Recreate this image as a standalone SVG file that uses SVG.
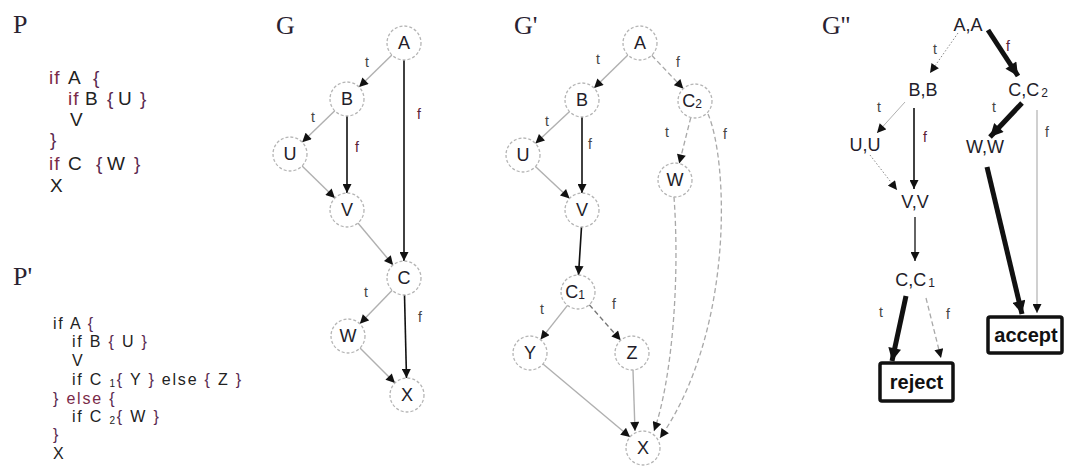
<svg xmlns="http://www.w3.org/2000/svg" width="1065" height="474" viewBox="0 0 1065 474">
<defs>
<style>
.title{font-family:"Liberation Serif",serif;font-size:26px;fill:#2a2230}
.code{font-family:"Liberation Sans",Arial,sans-serif;fill:#222}
.kw{fill:#7a2a48}
.br{fill:#5a2a50}
.nt{font-family:"Liberation Sans",Arial,sans-serif;font-size:18px;fill:#231d2a;text-anchor:middle}
.lbl{font-family:"Liberation Sans",Arial,sans-serif;font-size:14px;fill:#444;text-anchor:middle}
.lf{fill:#5a2035}
.nc{fill:#fff;stroke:#b5b5b5;stroke-width:1.3;stroke-dasharray:3 2}
.eg{fill:none;stroke:#b0b0b0;stroke-width:1.4}
.ek{fill:none;stroke:#111;stroke-width:1.6}
.ed{fill:none;stroke:#a8a8a8;stroke-width:1.3;stroke-dasharray:5 3}
.edot{fill:none;stroke:#888;stroke-width:1;stroke-dasharray:1.5 2}
.eth{fill:none;stroke:#111;stroke-width:5}
.elg{fill:none;stroke:#d0d0d0;stroke-width:2}
.box{fill:#fff;stroke:#111;stroke-width:3.5}
.bt{font-family:"Liberation Sans",Arial,sans-serif;font-size:20px;font-weight:bold;fill:#111;text-anchor:middle}
</style>
<marker id="ah" viewBox="0 0 10 10" refX="10" refY="5" markerWidth="10" markerHeight="9" markerUnits="userSpaceOnUse" orient="auto"><path d="M0,0 L10,5 L0,10 z" fill="#111"/></marker>
<marker id="ahb" viewBox="0 0 10 10" refX="10" refY="5" markerWidth="15" markerHeight="13" markerUnits="userSpaceOnUse" orient="auto"><path d="M0,0 L10,5 L0,10 z" fill="#111"/></marker>
</defs>
<rect width="1065" height="474" fill="#fff"/>

<!-- Titles -->
<text class="title" x="13" y="33">P</text>
<text class="title" x="13" y="285">P'</text>
<text class="title" x="276" y="34">G</text>
<text class="title" x="514" y="34">G'</text>
<text class="title" x="822" y="34">G''</text>

<!-- Program P -->
<g id="codeP" class="code" font-size="19" letter-spacing="1">
<text y="84"><tspan x="49" class="kw">if</tspan><tspan x="68">A</tspan><tspan x="93" class="br">{</tspan></text>
<text y="105"><tspan x="68" class="kw">if</tspan><tspan x="85">B</tspan><tspan x="107" class="br">{</tspan><tspan x="118">U</tspan><tspan x="140" class="br">}</tspan></text>
<text y="126"><tspan x="70">V</tspan></text>
<text y="146"><tspan x="50" class="br">}</tspan></text>
<text y="170"><tspan x="49" class="kw">if</tspan><tspan x="68">C</tspan><tspan x="96" class="br">{</tspan><tspan x="107">W</tspan><tspan x="134" class="br">}</tspan></text>
<text y="192"><tspan x="50">X</tspan></text>
</g>

<!-- Program P' -->
<g id="codeP2" class="code" font-size="16" letter-spacing="1.8" xml:space="preserve">
<text x="53" y="329">if A  <tspan class="br">{</tspan></text>
<text x="72" y="347">if B <tspan class="br">{</tspan> U <tspan class="br">}</tspan></text>
<text x="72" y="366">V</text>
<text x="72" y="385">if C <tspan font-size="10" dy="2">1</tspan><tspan dy="-2" class="br">{</tspan> Y <tspan class="br">}</tspan> else <tspan class="br">{</tspan> Z <tspan class="br">}</tspan></text>
<text x="53" y="404"><tspan class="br">}</tspan> <tspan class="kw">else</tspan> <tspan class="br">{</tspan></text>
<text x="72" y="422">if C <tspan font-size="10" dy="2">2</tspan><tspan dy="-2" class="br">{</tspan> W <tspan class="br">}</tspan></text>
<text x="53" y="440" class="br">}</text>
<text x="53" y="459">X</text>
</g>

<!-- Connectors -->
<g id="connectors">
<!-- G -->
<line class="eg" x1="391.9" y1="54.9" x2="359.1" y2="87.1" marker-end="url(#ah)"/>
<line class="ek" x1="404" y1="60" x2="404" y2="261" marker-end="url(#ah)"/>
<line class="eg" x1="334.8" y1="110.8" x2="302.2" y2="142.2" marker-end="url(#ah)"/>
<line class="ek" x1="347" y1="116" x2="347" y2="193" marker-end="url(#ah)"/>
<line class="eg" x1="302.1" y1="165.9" x2="334.9" y2="198.1" marker-end="url(#ah)"/>
<line class="eg" x1="357.9" y1="223" x2="393.1" y2="265" marker-end="url(#ah)"/>
<line class="eg" x1="392.2" y1="290.2" x2="359.8" y2="323.8" marker-end="url(#ah)"/>
<line class="ek" x1="404.5" y1="295" x2="406.5" y2="378" marker-end="url(#ah)"/>
<line class="eg" x1="360" y1="348" x2="395" y2="383" marker-end="url(#ah)"/>
<!-- G' -->
<line class="eg" x1="627.9" y1="54.9" x2="594.1" y2="88.1" marker-end="url(#ah)"/>
<line class="ed" x1="651.7" y1="55.3" x2="683.3" y2="88.7" marker-end="url(#ah)"/>
<line class="eg" x1="569.6" y1="111.6" x2="535.4" y2="143.4" marker-end="url(#ah)"/>
<line class="ek" x1="582" y1="117" x2="582" y2="193" marker-end="url(#ah)"/>
<line class="eg" x1="535.4" y1="166.6" x2="569.6" y2="198.4" marker-end="url(#ah)"/>
<line class="ek" x1="581.5" y1="227" x2="578.5" y2="275" marker-end="url(#ah)"/>
<line class="ed" x1="690.8" y1="117.5" x2="679.2" y2="163.5" marker-end="url(#ah)"/>
<path class="ed" d="M708 114 C728 160 735 330 660 438" marker-end="url(#ah)"/>
<path class="ed" d="M674 197 C680 280 672 380 654 431" marker-end="url(#ah)"/>
<line class="eg" x1="567.5" y1="305.4" x2="540.5" y2="339.6" marker-end="url(#ah)"/>
<line class="ed" x1="589.3" y1="304.7" x2="620.7" y2="340.3" style="stroke:#777" marker-end="url(#ah)"/>
<line class="eg" x1="543" y1="364" x2="630" y2="437" marker-end="url(#ah)"/>
<line class="eg" x1="633" y1="370" x2="635" y2="431" marker-end="url(#ah)"/>
<!-- G'' -->
<line class="edot" x1="958" y1="33" x2="930" y2="73" marker-end="url(#ah)"/>
<line class="eth" x1="988" y1="30" x2="1018" y2="76" marker-end="url(#ahb)"/>
<line class="eg" x1="905" y1="102" x2="877" y2="133" style="stroke-width:1" marker-end="url(#ah)"/>
<line class="ek" x1="914" y1="108" x2="914" y2="189" marker-end="url(#ah)"/>
<line class="eth" x1="1022" y1="103" x2="990" y2="137" marker-end="url(#ahb)"/>
<line class="elg" x1="1037" y1="110" x2="1037" y2="313" marker-end="url(#ah)"/>
<line class="edot" x1="870" y1="155" x2="897" y2="190" marker-end="url(#ah)"/>
<line class="eth" x1="987" y1="167" x2="1022" y2="314" marker-end="url(#ahb)"/>
<line class="ek" x1="915" y1="217" x2="915" y2="261" style="stroke-width:1.3" marker-end="url(#ah)"/>
<line class="eth" x1="906" y1="296" x2="892" y2="361" marker-end="url(#ahb)"/>
<line class="ed" x1="926" y1="298" x2="941" y2="358" marker-end="url(#ah)"/>
</g>

<!-- Edge labels -->
<g id="labels">
<text class="lbl" x="367" y="67">t</text>
<text class="lbl lf" x="419" y="119">f</text>
<text class="lbl" x="313" y="122">t</text>
<text class="lbl lf" x="357" y="152">f</text>
<text class="lbl" x="366" y="297">t</text>
<text class="lbl" x="420" y="322">f</text>
<text class="lbl" x="598" y="64">t</text>
<text class="lbl" x="678" y="67">f</text>
<text class="lbl" x="547" y="126">t</text>
<text class="lbl" x="590" y="149">f</text>
<text class="lbl" x="667" y="137">t</text>
<text class="lbl" x="725" y="139">f</text>
<text class="lbl" x="542" y="314">t</text>
<text class="lbl" x="614" y="309">f</text>
<text class="lbl" x="935" y="54">t</text>
<text class="lbl lf" x="1008" y="51">f</text>
<text class="lbl" x="879" y="112">t</text>
<text class="lbl lf" x="925" y="142">f</text>
<text class="lbl" x="994" y="112">t</text>
<text class="lbl" x="1047" y="137">f</text>
<text class="lbl" x="881" y="317">t</text>
<text class="lbl" x="948" y="319">f</text>
</g>

<!-- G nodes -->
<g id="G_A"><circle class="nc" cx="404" cy="43" r="17"/><text class="nt" x="404" y="49">A</text></g>
<g id="G_B"><circle class="nc" cx="347" cy="99" r="17"/><text class="nt" x="347" y="105">B</text></g>
<g id="G_U"><circle class="nc" cx="290" cy="154" r="17"/><text class="nt" x="290" y="160">U</text></g>
<g id="G_V"><circle class="nc" cx="347" cy="210" r="17"/><text class="nt" x="347" y="216">V</text></g>
<g id="G_C"><circle class="nc" cx="404" cy="278" r="17"/><text class="nt" x="404" y="284">C</text></g>
<g id="G_W"><circle class="nc" cx="348" cy="336" r="17"/><text class="nt" x="348" y="342">W</text></g>
<g id="G_X"><circle class="nc" cx="407" cy="395" r="17"/><text class="nt" x="407" y="401">X</text></g>

<!-- G' nodes -->
<g id="G1_A"><circle class="nc" cx="640" cy="43" r="17"/><text class="nt" x="640" y="49">A</text></g>
<g id="G1_B"><circle class="nc" cx="582" cy="100" r="17"/><text class="nt" x="582" y="106">B</text></g>
<g id="G1_C2"><circle class="nc" cx="695" cy="101" r="17"/><text class="nt" x="692" y="107">C<tspan font-size="12" dy="1">2</tspan></text></g>
<g id="G1_U"><circle class="nc" cx="523" cy="155" r="17"/><text class="nt" x="523" y="161">U</text></g>
<g id="G1_V"><circle class="nc" cx="582" cy="210" r="17"/><text class="nt" x="582" y="216">V</text></g>
<g id="G1_W"><circle class="nc" cx="675" cy="180" r="17"/><text class="nt" x="675" y="186">W</text></g>
<g id="G1_C1"><circle class="nc" cx="578" cy="292" r="17"/><text class="nt" x="575" y="298">C<tspan font-size="12" dy="1">1</tspan></text></g>
<g id="G1_Y"><circle class="nc" cx="530" cy="353" r="17"/><text class="nt" x="530" y="359">Y</text></g>
<g id="G1_Z"><circle class="nc" cx="632" cy="353" r="17"/><text class="nt" x="632" y="359">Z</text></g>
<g id="G1_X"><circle class="nc" cx="643" cy="448" r="17"/><text class="nt" x="643" y="454">X</text></g>

<!-- G'' nodes -->
<g id="G2_AA"><text class="nt" x="968" y="31">A,A</text></g>
<g id="G2_BB"><text class="nt" x="923" y="96">B,B</text></g>
<g id="G2_CC2"><text class="nt" x="1028" y="96">C,C<tspan font-size="12" dx="2" dy="1">2</tspan></text></g>
<g id="G2_UU"><text class="nt" x="865" y="151">U,U</text></g>
<g id="G2_WW"><text class="nt" x="985" y="153">W,W</text></g>
<g id="G2_VV"><text class="nt" x="915" y="208">V,V</text></g>
<g id="G2_CC1"><text class="nt" x="915" y="286">C,C<tspan font-size="12" dx="2" dy="1">1</tspan></text></g>
<g id="G2_reject"><rect class="box" x="880" y="363" width="73" height="38" rx="2"/><text class="bt" x="916.5" y="389">reject</text></g>
<g id="G2_accept"><rect class="box" x="988" y="317" width="74" height="36" rx="2"/><text class="bt" x="1026" y="342">accept</text></g>
</svg>
